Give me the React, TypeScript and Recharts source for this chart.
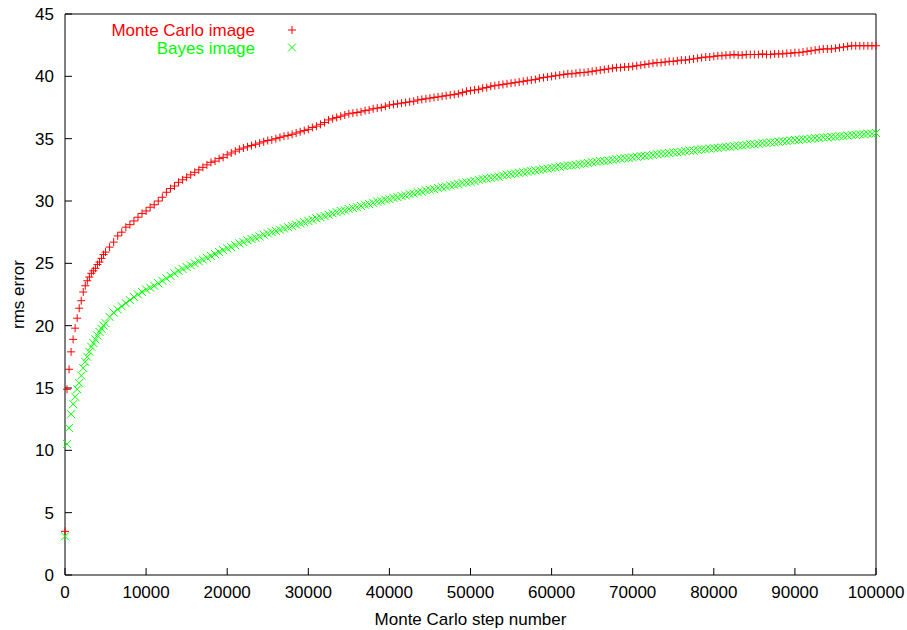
import React from 'react';
import { ScatterChart, Scatter, XAxis, YAxis, Legend } from 'recharts';

const steps = [
  0, 250, 500, 750, 1000, 1250, 1500, 1750, 2000, 2250, 2500, 2750, 3000, 3250, 3500, 3750, 4000, 4250, 4500, 4750, 5000,
  5500, 6000, 6500, 7000, 7500, 8000, 8500, 9000, 9500, 10000,
  10500, 11000, 11500, 12000, 12500, 13000, 13500, 14000, 14500, 15000,
  15500, 16000, 16500, 17000, 17500, 18000, 18500, 19000, 19500, 20000,
  20500, 21000, 21500, 22000, 22500, 23000, 23500, 24000, 24500, 25000,
  25500, 26000, 26500, 27000, 27500, 28000, 28500, 29000, 29500, 30000,
  30500, 31000, 31500, 32000, 32500, 33000, 33500, 34000, 34500, 35000,
  35500, 36000, 36500, 37000, 37500, 38000, 38500, 39000, 39500, 40000,
  40500, 41000, 41500, 42000, 42500, 43000, 43500, 44000, 44500, 45000,
  45500, 46000, 46500, 47000, 47500, 48000, 48500, 49000, 49500, 50000,
  50500, 51000, 51500, 52000, 52500, 53000, 53500, 54000, 54500, 55000,
  55500, 56000, 56500, 57000, 57500, 58000, 58500, 59000, 59500, 60000,
  60500, 61000, 61500, 62000, 62500, 63000, 63500, 64000, 64500, 65000,
  65500, 66000, 66500, 67000, 67500, 68000, 68500, 69000, 69500, 70000,
  70500, 71000, 71500, 72000, 72500, 73000, 73500, 74000, 74500, 75000,
  75500, 76000, 76500, 77000, 77500, 78000, 78500, 79000, 79500, 80000,
  80500, 81000, 81500, 82000, 82500, 83000, 83500, 84000, 84500, 85000,
  85500, 86000, 86500, 87000, 87500, 88000, 88500, 89000, 89500, 90000,
  90500, 91000, 91500, 92000, 92500, 93000, 93500, 94000, 94500, 95000,
  95500, 96000, 96500, 97000, 97500, 98000, 98500, 99000, 99500, 100000,
];

const monteCarlo = [
  3.5, 14.9, 16.5, 17.9, 18.9, 19.8, 20.6, 21.4, 22.0, 22.7, 23.2, 23.6, 23.9, 24.2, 24.4, 24.6, 24.9, 25.1, 25.4, 25.7, 25.9,
  26.3, 26.7, 27.2, 27.5, 27.9, 28.1, 28.4, 28.7, 29.0, 29.2,
  29.5, 29.7, 30.0, 30.3, 30.7, 31.0, 31.2, 31.5, 31.7, 31.9,
  32.1, 32.3, 32.5, 32.7, 32.9, 33.1, 33.2, 33.4, 33.5, 33.7,
  33.85, 34.0, 34.15, 34.25, 34.35, 34.45, 34.55, 34.65, 34.75, 34.85,
  34.9, 35.0, 35.1, 35.2, 35.25, 35.35, 35.45, 35.55, 35.65, 35.75,
  35.9, 36.0, 36.15, 36.3, 36.5, 36.6, 36.7, 36.8, 36.9, 37.0,
  37.05, 37.1, 37.15, 37.25, 37.3, 37.4, 37.45, 37.5, 37.6, 37.7,
  37.75, 37.8, 37.85, 37.9, 37.95, 38.0, 38.1, 38.15, 38.2, 38.25,
  38.3, 38.35, 38.4, 38.45, 38.5, 38.55, 38.6, 38.7, 38.8, 38.85,
  38.9, 38.95, 39.05, 39.1, 39.2, 39.25, 39.3, 39.35, 39.4, 39.45,
  39.5, 39.55, 39.6, 39.65, 39.7, 39.75, 39.85, 39.9, 39.95, 40.0,
  40.05, 40.1, 40.15, 40.2, 40.2, 40.25, 40.3, 40.3, 40.35, 40.4,
  40.45, 40.5, 40.55, 40.6, 40.65, 40.7, 40.7, 40.75, 40.75, 40.8,
  40.85, 40.9, 40.95, 41.0, 41.05, 41.1, 41.1, 41.15, 41.2, 41.2,
  41.25, 41.3, 41.3, 41.35, 41.4, 41.45, 41.5, 41.55, 41.55, 41.6,
  41.65, 41.65, 41.7, 41.7, 41.75, 41.7, 41.7, 41.75, 41.75, 41.75,
  41.75, 41.8, 41.75, 41.75, 41.8, 41.8, 41.8, 41.85, 41.85, 41.9,
  41.9, 41.95, 42.0, 42.05, 42.1, 42.15, 42.2, 42.2, 42.2, 42.25,
  42.3, 42.35, 42.4, 42.45, 42.45, 42.45, 42.45, 42.45, 42.45, 42.45,
];

const bayes = [
  3.1, 10.5, 11.8, 12.9, 13.7, 14.3, 14.9, 15.4, 16.0, 16.6, 17.1, 17.5, 17.9, 18.3, 18.6, 18.9, 19.2, 19.5, 19.75, 20.0, 20.2,
  20.7, 21.05, 21.3, 21.55, 21.8, 22.05, 22.3, 22.5, 22.7, 22.9,
  23.05, 23.2, 23.4, 23.6, 23.8, 24.0, 24.2, 24.4, 24.55, 24.7,
  24.85, 25.0, 25.15, 25.3, 25.45, 25.6, 25.75, 25.9, 26.05, 26.2,
  26.3, 26.45, 26.6, 26.7, 26.85, 26.95, 27.05, 27.15, 27.3, 27.4,
  27.5, 27.6, 27.7, 27.8, 27.9, 28.0, 28.1, 28.2, 28.3, 28.4,
  28.5, 28.6, 28.7, 28.8, 28.9, 29.0, 29.1, 29.2, 29.25, 29.35,
  29.45, 29.5, 29.6, 29.7, 29.75, 29.85, 29.95, 30.0, 30.1, 30.15,
  30.25, 30.3, 30.4, 30.45, 30.55, 30.6, 30.7, 30.75, 30.85, 30.9,
  30.95, 31.05, 31.1, 31.15, 31.25, 31.3, 31.35, 31.45, 31.5, 31.55,
  31.6, 31.7, 31.75, 31.8, 31.85, 31.9, 31.95, 32.05, 32.1, 32.15,
  32.2, 32.25, 32.3, 32.35, 32.4, 32.45, 32.5, 32.55, 32.6, 32.65,
  32.7, 32.75, 32.8, 32.85, 32.85, 32.9, 32.95, 33.0, 33.05, 33.1,
  33.15, 33.2, 33.2, 33.25, 33.3, 33.35, 33.4, 33.45, 33.45, 33.5,
  33.55, 33.6, 33.6, 33.65, 33.7, 33.75, 33.8, 33.8, 33.85, 33.9,
  33.9, 33.95, 34.0, 34.05, 34.05, 34.1, 34.15, 34.15, 34.2, 34.25,
  34.25, 34.3, 34.35, 34.35, 34.4, 34.45, 34.45, 34.5, 34.55, 34.55,
  34.6, 34.65, 34.65, 34.7, 34.7, 34.75, 34.8, 34.8, 34.85, 34.9,
  34.9, 34.95, 34.95, 35.0, 35.05, 35.05, 35.1, 35.1, 35.15, 35.15,
  35.2, 35.2, 35.25, 35.3, 35.3, 35.35, 35.35, 35.4, 35.4, 35.45,
];

const xTicks = [0, 10000, 20000, 30000, 40000, 50000, 60000, 70000, 80000, 90000, 100000];
const yTicks = [0, 5, 10, 15, 20, 25, 30, 35, 40, 45];

const FONT = "'Liberation Sans', Arial, Helvetica, sans-serif";
const FS = 17;

const seriesInfo = [
  { name: 'Monte Carlo image', color: '#ff0000', symbol: 'plus', values: monteCarlo },
  { name: 'Bayes image', color: '#00ff00', symbol: 'cross', values: bayes },
];

const makeData = (values: number[]) => steps.map((s, i) => ({ step: s, value: values[i] }));

const markerPath = (symbol: string, cx: number, cy: number) =>
  symbol === 'plus'
    ? `M${cx - 4},${cy}H${cx + 4}M${cx},${cy - 4}V${cy + 4}`
    : `M${cx - 4},${cy - 4}L${cx + 4},${cy + 4}M${cx - 4},${cy + 4}L${cx + 4},${cy - 4}`;

const makeShape = (symbol: string, color: string) => (props: any) => {
  const { cx, cy } = props;
  if (cx == null || cy == null) return <g />;
  return <path d={markerPath(symbol, cx, cy)} stroke={color} strokeWidth={1} fill="none" />;
};

const renderLegend = () => (
  <svg width={320} height={64} style={{ display: 'block' }}>
    {seriesInfo.map((s, i) => (
      <g key={s.name}>
        <text x={255} y={36 + i * 17.5} textAnchor="end" fill={s.color} fontSize={FS} fontFamily={FONT}>
          {s.name}
        </text>
        <path d={markerPath(s.symbol, 292, 30 + i * 17.5)} stroke={s.color} strokeWidth={1} fill="none" />
      </g>
    ))}
  </svg>
);

export default function App() {
  const tickStyle = { fill: '#000', fontSize: FS, fontFamily: FONT };
  return (
    <div style={{ position: 'absolute', left: 0, top: 0, background: '#fff' }}>
      <ScatterChart width={907} height={630} margin={{ top: 0, right: 0, bottom: 0, left: 0 }}>
        <XAxis
          type="number"
          dataKey="step"
          domain={[0, 100000]}
          ticks={xTicks}
          height={55}
          tickSize={-7}
          tickMargin={18}
          tick={tickStyle}
          axisLine={{ stroke: '#000' }}
          tickLine={{ stroke: '#000' }}
          label={{ value: 'Monte Carlo step number', position: 'insideBottom', offset: 5, fill: '#000', fontSize: FS, fontFamily: FONT }}
        />
        <XAxis
          xAxisId="top"
          orientation="top"
          type="number"
          domain={[0, 100000]}
          ticks={xTicks}
          height={14}
          tickSize={-7}
          tick={false}
          axisLine={{ stroke: '#000' }}
          tickLine={{ stroke: '#000' }}
        />
        <YAxis
          type="number"
          dataKey="value"
          domain={[0, 45]}
          ticks={yTicks}
          width={65}
          tickSize={-7}
          tickMargin={18}
          tick={tickStyle}
          axisLine={{ stroke: '#000' }}
          tickLine={{ stroke: '#000' }}
          label={{ value: 'rms error', angle: -90, position: 'insideLeft', offset: 18, fill: '#000', fontSize: FS, fontFamily: FONT, style: { textAnchor: 'middle' } }}
        />
        <YAxis
          yAxisId="right"
          orientation="right"
          type="number"
          domain={[0, 45]}
          ticks={yTicks}
          width={31}
          tickSize={-7}
          tick={false}
          axisLine={{ stroke: '#000' }}
          tickLine={{ stroke: '#000' }}
        />
        <Legend
          layout="horizontal"
          verticalAlign="middle"
          align="center"
          wrapperStyle={{ left: 0, top: 0, width: 320, height: 64 }}
          content={renderLegend}
        />
        {seriesInfo.map((s) => (
          <Scatter
            key={s.name}
            name={s.name}
            data={makeData(s.values)}
            dataKey="value"
            fill={s.color}
            shape={makeShape(s.symbol, s.color)}
            isAnimationActive={false}
          />
        ))}
      </ScatterChart>
    </div>
  );
}
